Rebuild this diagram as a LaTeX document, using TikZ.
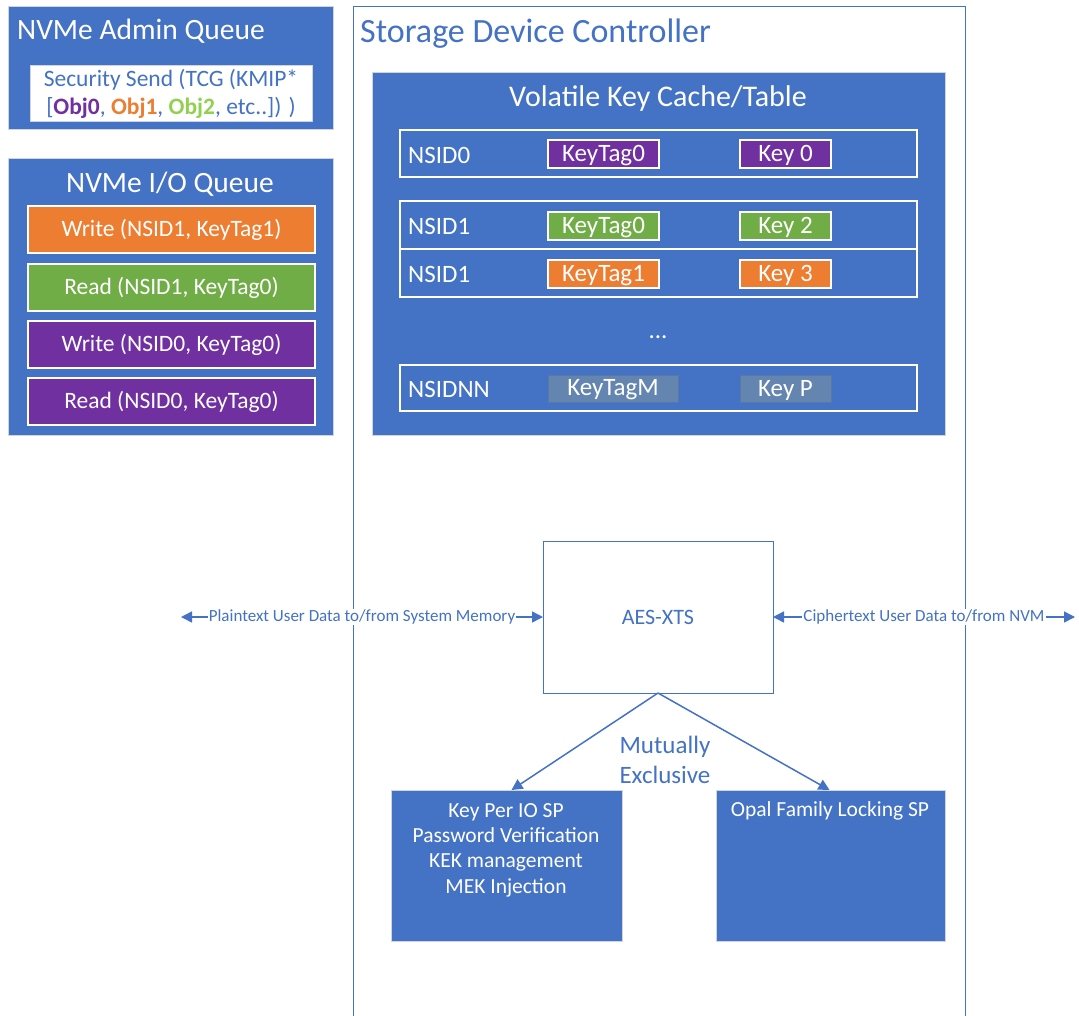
\documentclass[tikz,border=0pt]{standalone}
\usepackage{fontspec}
\setmainfont{Carlito}
\usetikzlibrary{arrows.meta}
\definecolor{nvblue}{HTML}{4472C4}
\definecolor{nvorange}{HTML}{ED7D31}
\definecolor{nvgreen}{HTML}{70AD47}
\definecolor{nvlgreen}{HTML}{92D050}
\definecolor{nvpurple}{HTML}{7030A0}
\definecolor{nvslate}{HTML}{6485B0}
\definecolor{nvslateedge}{HTML}{5A78A2}
\definecolor{paneledge}{HTML}{D0D4DC}
\newcommand\fs[1]{\fontsize{#1}{#1}\selectfont}
\begin{document}
\begin{tikzpicture}[x=1pt,y=-1pt,
  box/.style={inner sep=0pt,outer sep=0pt,anchor=north west},
  panel/.style={box,fill=nvblue,draw=paneledge,line width=1pt},
  cmdbox/.style={box,draw=white,line width=1.5pt},
  rowbox/.style={box,draw=white,line width=1.2pt},
  keybox/.style={box,draw=white,line width=1.2pt},
  dimkey/.style={box,fill=nvslate,draw=nvslateedge,line width=1pt},
  wtext/.style={text=white,inner sep=0pt},
  ktext/.style={wtext,font=\fs{25},yshift=-1.5pt},
  btext/.style={text=nvblue,inner sep=0pt},
  arr/.style={draw=nvblue,line width=1.5pt,{Triangle[width=11pt,length=11pt]}-{Triangle[width=11pt,length=11pt]}},
  darr/.style={draw=nvblue,line width=1.5pt,-{Triangle[width=11pt,length=11pt]}},
  flowlabel/.style={fill=white,text=nvblue,inner sep=1pt,font=\fs{17}}]
\useasboundingbox (0,0) rectangle (1079,1015);
\fill[white] (0,0) rectangle (1079,1015);

% Admin queue
\node[panel,minimum width=325pt,minimum height=123pt] (admin) at (8,6) {};
\node[wtext,anchor=west,font=\fs{29.5}] (admint) at (17,31) {NVMe Admin Queue};
\node[box,fill=white,draw=paneledge,minimum width=282pt,minimum height=56pt] (sec) at (30,65) {};
\node[btext,align=center,font=\fontsize{23.5}{28}\selectfont] (sect) at ([yshift=-1pt]sec.center)
  {Security Send (TCG (KMIP*\\{}[\textbf{\color{nvpurple}Obj0}, \textbf{\color{nvorange}Obj1}, \textbf{\color{nvlgreen}Obj2}, etc..]) )};

% I/O queue
\node[panel,minimum width=325pt,minimum height=277pt] (ioq) at (8,158) {};
\node[wtext,font=\fs{29.5}] (ioqt) at (170,184) {NVMe I/O Queue};
\node[cmdbox,fill=nvorange,minimum width=287pt,minimum height=47pt] (c1) at (28,206) {};
\node[cmdbox,fill=nvgreen,minimum width=287pt,minimum height=47pt] (c2) at (28,264) {};
\node[cmdbox,fill=nvpurple,minimum width=287pt,minimum height=47pt] (c3) at (28,321) {};
\node[cmdbox,fill=nvpurple,minimum width=287pt,minimum height=47pt] (c4) at (28,378) {};
\node[wtext,font=\fs{23.5}] at (c1.center) {Write (NSID1, KeyTag1)};
\node[wtext,font=\fs{23.5}] at (c2.center) {Read (NSID1, KeyTag0)};
\node[wtext,font=\fs{23.5}] at (c3.center) {Write (NSID0, KeyTag0)};
\node[wtext,font=\fs{23.5}] at (c4.center) {Read (NSID0, KeyTag0)};

% Controller outline
\node[box,draw=nvblue,line width=1pt,minimum width=612pt,minimum height=1020pt] (ctrl) at (353,6) {};
\node[btext,anchor=west,font=\fs{34}] (ctrlt) at (360,34) {Storage Device Controller};

% Key cache
\node[panel,minimum width=573pt,minimum height=363pt] (cache) at (372,72) {};
\node[wtext,font=\fs{30}] (cachet) at (658,98) {Volatile Key Cache/Table};

\node[rowbox,minimum width=517pt,minimum height=47pt] (r0) at (400,130) {};
\node[rowbox,minimum width=517pt,minimum height=48pt] (r1) at (400,201) {};
\node[rowbox,minimum width=517pt,minimum height=48pt] (r2) at (400,249) {};
\node[rowbox,minimum width=517pt,minimum height=46pt] (rn) at (400,365) {};

\node[wtext,anchor=west,font=\fs{25}] at (408,155) {NSID0};
\node[wtext,anchor=west,font=\fs{25}] at (408,226) {NSID1};
\node[wtext,anchor=west,font=\fs{25}] at (408,274) {NSID1};
\node[wtext,anchor=west,font=\fs{25}] at (408,389) {NSIDNN};

\node[keybox,fill=nvpurple,minimum width=111pt,minimum height=28pt] (t0) at (548,140) {};
\node[keybox,fill=nvpurple,minimum width=91pt,minimum height=28pt] (k0) at (740,140) {};
\node[keybox,fill=nvgreen,minimum width=111pt,minimum height=28pt] (t1) at (548,212) {};
\node[keybox,fill=nvgreen,minimum width=91pt,minimum height=28pt] (k1) at (740,212) {};
\node[keybox,fill=nvorange,minimum width=111pt,minimum height=28pt] (t2) at (548,260) {};
\node[keybox,fill=nvorange,minimum width=91pt,minimum height=28pt] (k2) at (740,260) {};
\node[dimkey,minimum width=130pt,minimum height=27pt] (tn) at (548,375) {};
\node[dimkey,minimum width=91pt,minimum height=27pt] (kn) at (740,375) {};
\node[ktext] at (t0.center) {KeyTag0};
\node[ktext] at (k0.center) {Key 0};
\node[ktext] at (t1.center) {KeyTag0};
\node[ktext] at (k1.center) {Key 2};
\node[ktext] at (t2.center) {KeyTag1};
\node[ktext] at (k2.center) {Key 3};
\node[ktext] at (tn.center) {KeyTagM};
\node[ktext] at (kn.center) {Key P};
\node[wtext,font=\fs{25}] (dots) at (658,337) {...};

% Encryption engine
\node[box,fill=white,draw=nvblue,line width=1pt,minimum width=230pt,minimum height=152pt] (aes) at (543,541) {};
\node[btext,font=\fs{22}] at (aes.center) {AES-XTS};

\coordinate (host) at (181,617);
\coordinate (nvm) at (1075,617);
\draw[arr] (host) -- node[flowlabel] {Plaintext User Data to/from System Memory} (aes.west);
\draw[arr] (aes.east) -- node[flowlabel] {Ciphertext User Data to/from NVM} (nvm);

% Security providers
\node[panel,minimum width=231pt,minimum height=151pt] (kpio) at (391,790) {};
\node[panel,minimum width=229pt,minimum height=151pt] (opal) at (716,790) {};
\node[wtext,align=center,font=\fontsize{21.5}{25.3}\selectfont] at (506,850)
  {Key Per IO SP\\Password Verification\\KEK management\\MEK Injection};
\node[wtext,font=\fs{21.5}] at (830,811) {Opal Family Locking SP};

\draw[darr] (aes.south) -- ([xshift=5pt]kpio.north);
\draw[darr] (aes.south) -- ([xshift=-1pt]opal.north);
\node[btext,align=center,font=\fontsize{25}{30}\selectfont] (mutex) at (665,760) {Mutually\\Exclusive};
\end{tikzpicture}
\end{document}
